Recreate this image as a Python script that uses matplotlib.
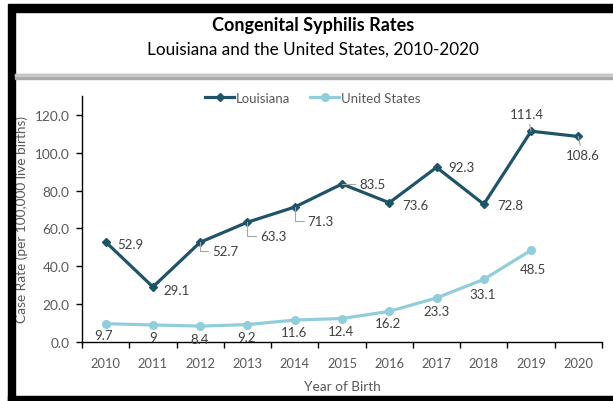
import matplotlib.pyplot as plt
from matplotlib.patches import Rectangle

years = [2010, 2011, 2012, 2013, 2014, 2015, 2016, 2017, 2018, 2019, 2020]
louisiana = [52.9, 29.1, 52.7, 63.3, 71.3, 83.5, 73.6, 92.3, 72.8, 111.4, 108.6]
us_years = years[:10]
united_states = [9.7, 9, 8.4, 9.2, 11.6, 12.4, 16.2, 23.3, 33.1, 48.5]
yticks = [0, 20, 40, 60, 80, 100, 120]

plt.rcParams['font.family'] = ['Lato', 'DejaVu Sans']

LA_COL = '#1F5468'
US_COL = '#92CDDC'
TXT = '#404040'
LEAD = '#A6A6A6'

W, H = 613, 402
fig = plt.figure(figsize=(W / 100, H / 100), dpi=100)

def px(x, y):
    return x / W, 1 - y / H

# frame
fig.patches.append(Rectangle(px(8, 13), 605 / W, 8 / H, transform=fig.transFigure, color='black', zorder=0))
fig.patches.append(Rectangle(px(8, 402), 7 / W, 389 / H, transform=fig.transFigure, color='black', zorder=0))
fig.patches.append(Rectangle(px(8, 402), 605 / W, 5 / H, transform=fig.transFigure, color='black', zorder=0))
fig.patches.append(Rectangle(px(15, 80), 598 / W, 5 / H, transform=fig.transFigure, color='#A8A8A8', zorder=0))
fig.patches.append(Rectangle(px(15, 77), 598 / W, 2 / H, transform=fig.transFigure, color='#C8C8C8', zorder=0))

fig.text(*px(313, 26), 'Congenital Syphilis Rates', ha='center', va='center',
         fontsize=13, fontweight='bold', color='black')
fig.text(*px(313, 50), 'Louisiana and the United States, 2010-2020', ha='center', va='center',
         fontsize=12.3, color='black')

l, b = px(82, 343)
r, t = px(602, 97)
ax = fig.add_axes([l, b, r - l, t - b])

x = list(range(len(years)))
ax.plot(x, louisiana, color=LA_COL, lw=2.3, marker='D', ms=4.5, label='Louisiana', zorder=3)
ax.plot(x[:len(us_years)], united_states, color=US_COL, lw=2.3, marker='o', ms=5.5,
        label='United States', zorder=3)

ax.set_xlim(-0.5, len(years) - 0.5)
ax.set_ylim(0, 130)
ax.set_yticks(yticks)
ax.set_yticklabels([f'{v:.1f}' for v in yticks])
ax.set_xticks(x)
ax.set_xticklabels([str(y) for y in years])
ax.set_xticks([i - 0.5 for i in range(len(years) + 1)], minor=True)
ax.tick_params(axis='x', which='major', length=0, pad=11, labelsize=9.3, labelcolor='#595959')
ax.tick_params(axis='x', which='minor', length=4, width=1, color='black')
ax.tick_params(axis='y', length=4, width=1, color='black', pad=5, labelsize=9.8, labelcolor='#595959')
for s in ['top', 'right']:
    ax.spines[s].set_visible(False)
for s in ['left', 'bottom']:
    ax.spines[s].set_color('black')
    ax.spines[s].set_linewidth(1)

ax.set_ylabel('Case Rate (per 100,000 live births)', fontsize=9.8, color='#595959', labelpad=5)
ax.set_xlabel('Year of Birth', fontsize=9.8, color='#595959', labelpad=8)

# Louisiana labels: (dx, dy) offsets in pixels
la_off = [(12, -2), (11, -3), (12, -9), (13, -14), (13, -14), (17, 0),
          (13, -2), (12, 0), (13, -1), (-4, 17), (4, -19)]
for i, (v, (dx, dy)) in enumerate(zip(louisiana, la_off)):
    lbl = f'{v:g}'
    if i in (2, 3, 4, 5):
        ax.annotate(lbl, (i, v), xytext=(dx, dy), textcoords='offset pixels',
                    ha='left', va='center', fontsize=9.5, color=TXT,
                    arrowprops=dict(arrowstyle='-', color=LEAD, lw=0.8,
                                    connectionstyle='angle,angleA=0,angleB=90,rad=0',
                                    relpos=(0, 0.5), shrinkA=1, shrinkB=0))
    elif i in (9, 10):
        ax.annotate(lbl, (i, v), xytext=(dx, dy), textcoords='offset pixels',
                    ha='center', va='center', fontsize=9.5, color=TXT,
                    arrowprops=dict(arrowstyle='-', color=LEAD, lw=0.8,
                                    relpos=(0.5, 0.5), shrinkA=1, shrinkB=0))
    else:
        ax.annotate(lbl, (i, v), xytext=(dx, dy), textcoords='offset pixels',
                    ha='left', va='center', fontsize=9.5, color=TXT)

us_off = [(-2, -11), (0, -12), (-1, -13), (-1, -12), (-1, -12), (-1, -12),
          (-1, -12), (0, -13), (-1, -15), (2, -19)]
for i, (v, (dx, dy)) in enumerate(zip(united_states, us_off)):
    ax.annotate(f'{v:g}', (i, v), xytext=(dx, dy), textcoords='offset pixels',
                ha='center', va='center', fontsize=9.5, color=TXT)

fig.legend(loc='center', bbox_to_anchor=px(313, 99), ncol=2, frameon=False,
           fontsize=9.5, handlelength=2.2, handletextpad=0.15, columnspacing=1.5,
           labelcolor='#595959')

fig.savefig('out.png', dpi=100)
